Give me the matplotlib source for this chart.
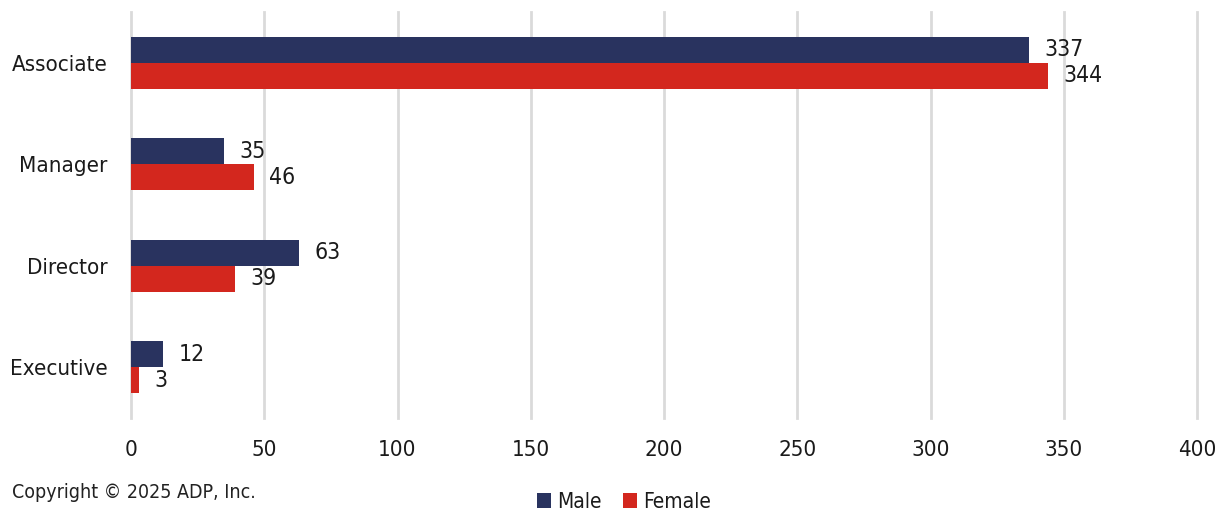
import matplotlib
matplotlib.use("Agg")
import matplotlib.pyplot as plt
import numpy as np

categories = ["Associate", "Manager", "Director", "Executive"]
male = [337, 35, 63, 12]
female = [344, 46, 39, 3]

navy = "#29335f"
red = "#d3271e"

plt.rcParams["font.family"] = ["DejaVu Sans"]
plt.rcParams["font.stretch"] = "condensed"

fig = plt.figure(figsize=(12.2, 5.13), dpi=100)
ax = fig.add_axes([131 / 1220, 1 - 418 / 513, (1197 - 131) / 1220, 406 / 513])

y = np.arange(len(categories))
h = 0.256
b1 = ax.barh(y - h / 2, male, height=h, color=navy, label="Male")
b2 = ax.barh(y + h / 2, female, height=h, color=red, label="Female")

ax.bar_label(b1, padding=11, fontsize=16.5, color="#1a1a1a")
ax.bar_label(b2, padding=11, fontsize=16.5, color="#1a1a1a")

ax.set_ylim(len(categories) - 0.5, -0.5)
ax.set_yticks(y)
ax.set_yticklabels(categories, fontsize=16, color="#1a1a1a")
ax.set_xlim(0, 400)
ax.set_xticks(np.arange(0, 401, 50))
ax.tick_params(axis="x", labelsize=16, length=0, pad=16, labelcolor="#1a1a1a")
ax.tick_params(axis="y", length=0, pad=17)

ax.grid(axis="x", color="#dadada", linewidth=2)
for gl in ax.get_xgridlines():
    gl.set_clip_on(False)
ax.set_axisbelow(True)
for s in ax.spines.values():
    s.set_visible(False)

fig.text(12 / 1220, 1 - 492 / 513, "Copyright \u00a9 2025 ADP, Inc.", fontsize=14,
         va="center", ha="left", color="#222222")

fig.legend(handles=[b1, b2], loc="center", bbox_to_anchor=(624 / 1220, 1 - 502 / 513),
           ncol=2, frameon=False, fontsize=15, handlelength=0.7, handleheight=0.7,
           handletextpad=0.3, columnspacing=1.0, borderpad=0, labelcolor="#1a1a1a")

fig.savefig("out.png", dpi=100)
